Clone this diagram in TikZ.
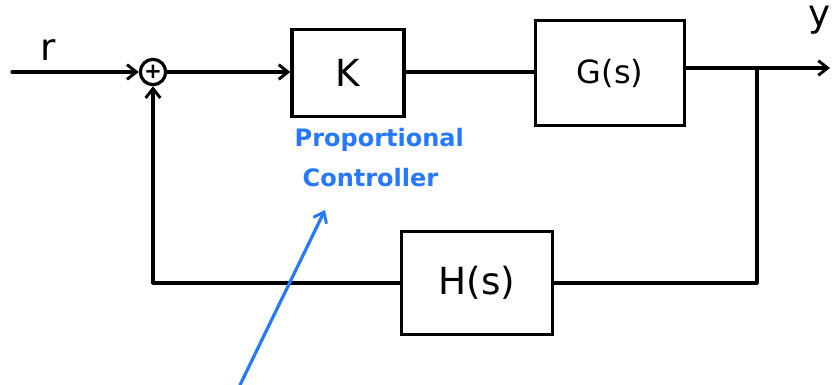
\documentclass[tikz,border=0pt]{standalone}
\usepackage{fontspec}
\setmainfont{DejaVu Sans}
\usetikzlibrary{arrows.meta}
\definecolor{penblue}{RGB}{38,120,255}
\begin{document}
\begin{tikzpicture}[x=0.75pt,y=-0.75pt,
  wire/.style={line width=2.4pt,black,line cap=round,line join=round},
  tip/.style={-{Straight Barb[length=7pt,width=11pt,line width=2.2pt]}},
  arr/.style={wire,tip},
  blockbox/.style={draw,line width=2.4pt,minimum width=#1,inner sep=0pt},
  note/.style={penblue,font=\fontsize{18}{20}\selectfont\bfseries},
  lab/.style={font=\fontsize{28}{30}\selectfont}]
\useasboundingbox (0,0) rectangle (833,385);
% forward path blocks
\node[blockbox=84pt,minimum height=65pt,lab] (K) at (348,73) {K};
\node[blockbox=112pt,minimum height=79pt,font=\fontsize{24}{26}\selectfont] (G) at (610,73) {G(s)};
\node[blockbox=113pt,minimum height=77pt,lab] (H) at (477,283) {H(s)};
% summing junction
\node[draw,circle,line width=2.4pt,minimum size=19pt,inner sep=0pt,font=\fontsize{16}{16}\selectfont\bfseries] (sum) at (153,72) {+};
% signal labels
\node[lab] (r) at (48,50) {r};
\node[lab] (y) at (820,20) {y};
\coordinate (in) at (12,72);
\coordinate (out) at (830,68);
\coordinate (tap) at (757,68);
\coordinate (fbcorner) at (153,283);
% connectors
\draw[arr] (in) -- (sum.west);
\draw[arr] (sum.east) -- (K.west |- sum.east);
\draw[wire] (K.east |- sum.east) -- (G.west |- sum.east);
\draw[arr] (G.east |- out) -- (out);
\draw[wire] (tap) -- (tap |- H.east) -- (H.east);
\draw[wire] (H.west) -- (fbcorner);
\draw[arr] (fbcorner) -- (sum.south);
% annotation
\node[note,anchor=west] (p1) at (290,140) {Proportional};
\node[note,anchor=west] (p2) at (298,178) {Controller};
\coordinate (pstart) at (240,385);
\draw[penblue,line width=2.4pt,line cap=round,tip] (pstart) -- (325,210);
\end{tikzpicture}
\end{document}
